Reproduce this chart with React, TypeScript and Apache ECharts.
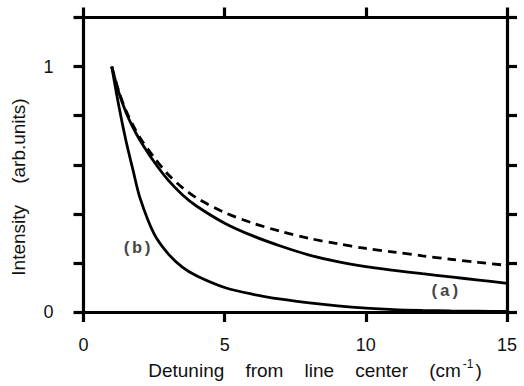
import React, { useEffect, useRef } from "react";
import * as echarts from "echarts";

const xValues = [1, 1.25, 1.5, 1.75, 2, 2.5, 3, 3.5, 4, 5, 6, 7, 8, 9, 10, 11, 12, 13, 14, 15];
const curveA = [1, 0.895, 0.815, 0.752, 0.7, 0.612, 0.537, 0.478, 0.432, 0.362, 0.31, 0.268, 0.232, 0.205, 0.185, 0.17, 0.156, 0.143, 0.13, 0.117];
const curveDashed = [1, 0.9, 0.822, 0.762, 0.71, 0.63, 0.56, 0.507, 0.465, 0.405, 0.362, 0.328, 0.3, 0.278, 0.259, 0.244, 0.229, 0.215, 0.202, 0.19];
const curveB = [1, 0.84, 0.7, 0.58, 0.465, 0.318, 0.237, 0.183, 0.148, 0.1, 0.072, 0.052, 0.037, 0.025, 0.016, 0.01, 0.0065, 0.004, 0.003, 0.002];
const yLabelValues = [0, 1];
const annotationTexts = ["(b)", "(a)"];
const annotationX = [1.9, 12.8];
const annotationY = [0.257, 0.082];
const xAxisTitle = ["Detuning    from    line    center    (cm", "-1", ")"];
const yAxisTitle = "Intensity    (arb.units)";

export default function App() {
  const ref = useRef<HTMLDivElement>(null);
  useEffect(() => {
    document.body.style.margin = "0";
    const chart = echarts.init(ref.current!, null, { renderer: "svg" });
    const font = "'Liberation Sans', Arial, Helvetica, sans-serif";
    const axisLine = { show: true, onZero: false, lineStyle: { color: "#000", width: 3.2 } };
    const axisTick = { show: true, inside: false, length: 10, lineStyle: { color: "#000", width: 3.2 } };
    const pairs = (ys: number[]) => xValues.map((x, i) => [x, ys[i]]);
    const lineSeries = (name: string, ys: number[], type: any) => ({
      name,
      type: "line",
      data: pairs(ys),
      symbol: "none",
      smooth: 0.3,
      silent: true,
      lineStyle: { color: "#000", width: 2.8, type },
    });
    chart.setOption({
      animation: false,
      grid: { left: 83.5, right: 17, top: 17.5, bottom: 74, containLabel: false },
      xAxis: [
        {
          type: "value", position: "bottom", min: 0, max: 15, interval: 5,
          axisLine, axisTick, splitLine: { show: false },
          axisLabel: { margin: 24, fontSize: 18, color: "#111", fontFamily: font },
        },
        {
          type: "value", position: "top", min: 0, max: 15, interval: 5,
          axisLine, axisTick, splitLine: { show: false }, axisLabel: { show: false },
        },
      ],
      yAxis: [
        {
          type: "value", position: "left", min: 0, max: 1.2, interval: 0.2,
          axisLine, axisTick, splitLine: { show: false },
          axisLabel: {
            margin: 30, fontSize: 18, color: "#111", fontFamily: font,
            formatter: (v: number) => {
              const t = yLabelValues.find((u) => Math.abs(u - v) < 1e-9);
              return t === undefined ? "" : String(t);
            },
          },
        },
        {
          type: "value", position: "right", min: 0, max: 1.2, interval: 0.2,
          axisLine, axisTick, splitLine: { show: false }, axisLabel: { show: false },
        },
      ],
      series: [
        lineSeries("dashed", curveDashed, [9, 6]),
        lineSeries("a", curveA, "solid"),
        lineSeries("b", curveB, "solid"),
        {
          type: "scatter",
          symbolSize: 0,
          silent: true,
          data: annotationTexts.map((t, i) => ({ name: t, value: [annotationX[i], annotationY[i]] })),
          label: {
            show: true, position: "inside", formatter: "{b}",
            fontFamily: "'Liberation Mono', 'Courier New', monospace",
            fontWeight: "bold", fontSize: 17, color: "#111",
          },
        },
      ],
      graphic: [
        {
          type: "text", x: 315, y: 370, silent: true,
          style: {
            text: `{n|${xAxisTitle[0]}}{s|${xAxisTitle[1]}}{n|${xAxisTitle[2]}}`,
            align: "center", verticalAlign: "middle",
            textAlign: "center", textVerticalAlign: "middle",
            fill: "#111",
            rich: {
              n: { fontSize: 19, fontFamily: font, fill: "#111", color: "#111" },
              s: { fontSize: 12, fontFamily: font, fill: "#111", color: "#111", padding: [0, 2, 12, 2] },
            },
          },
        },
        {
          type: "text", x: 18, y: 187, rotation: Math.PI / 2, silent: true,
          style: {
            text: yAxisTitle, fontSize: 19, fontFamily: font, fill: "#111",
            align: "center", verticalAlign: "middle",
            textAlign: "center", textVerticalAlign: "middle",
          },
        },
      ],
    });
    return () => chart.dispose();
  }, []);
  return <div ref={ref} style={{ width: 524, height: 386 }} />;
}
